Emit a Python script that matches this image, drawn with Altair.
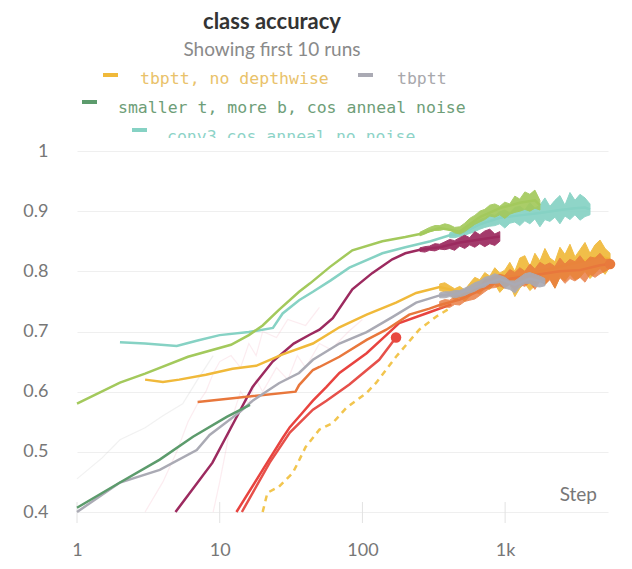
import altair as alt
import pandas as pd

# ---------------- text ----------------
TITLE = "class accuracy"
SUBTITLE = "Showing first 10 runs"
X_LABEL = "Step"
X_TICKS = [1, 10, 100, 1000]
Y_TICKS = [0.4, 0.5, 0.6, 0.7, 0.8, 0.9, 1.0]

LEGEND_LABELS = ["tbptt, no depthwise", "tbptt",
                 "smaller t, more b, cos anneal noise",
                 "conv3 cos anneal no noise"]
LEGEND_COLORS = ["#f0b93a", "#aaaab4", "#5c9b6c", "#86d2c4"]
LEGEND_TEXT_COLORS = ["#e9c26a", "#a8a8ac", "#6e9e78", "#8dd3c7"]

# shared step grid of the noisy (late) part of the runs
NOISE_STEPS = [253, 274, 296, 322, 348, 378, 409, 443, 481, 521, 565, 613, 665,
               720, 781, 847, 918, 995, 1079, 1170, 1268, 1375, 1491, 1617,
               1753, 1900, 2060, 2234, 2422, 2626, 2847, 3087, 3347, 3629,
               3934, 4266, 4625, 5015, 5437]

# ---------------- runs (smoothed curves) ----------------
lime_steps = [1, 2, 3, 6, 12, 16, 20, 26, 36, 43, 59, 85, 138, 200, 253, 348,
              481, 665, 918, 1268, 1617, 1753]
lime_vals = [0.58, 0.615, 0.63, 0.658, 0.678, 0.694, 0.71, 0.736, 0.766, 0.78,
             0.807, 0.835, 0.85, 0.857, 0.862, 0.872, 0.866, 0.89, 0.905,
             0.914, 0.918, 0.91]
lime_hi = [0.865, 0.869, 0.873, 0.876, 0.876, 0.879, 0.877, 0.873, 0.874, 0.88,
           0.888, 0.893, 0.9, 0.903, 0.91, 0.912, 0.908, 0.915, 0.912, 0.925,
           0.92, 0.932, 0.928, 0.935, 0.918]
lime_lo = [0.859, 0.862, 0.866, 0.868, 0.868, 0.87, 0.869, 0.864, 0.862, 0.866,
           0.872, 0.878, 0.882, 0.886, 0.892, 0.89, 0.894, 0.888, 0.895, 0.898,
           0.9, 0.903, 0.9, 0.905, 0.902]

teal_steps = [2, 3, 5, 7, 10, 16, 23.6, 27.6, 36, 45, 60, 81, 138, 200, 300,
              409, 481, 665, 918, 1268, 1753, 2422, 3087, 3629, 3934]
teal_vals = [0.682, 0.68, 0.676, 0.685, 0.694, 0.699, 0.706, 0.73, 0.752, 0.766,
             0.785, 0.806, 0.83, 0.84, 0.85, 0.86, 0.862, 0.878, 0.889, 0.893,
             0.897, 0.902, 0.905, 0.906, 0.903]
teal_hi = [0.864, 0.866, 0.867, 0.872, 0.874, 0.881, 0.886, 0.889, 0.895, 0.893,
           0.899, 0.902, 0.897, 0.906, 0.908, 0.902, 0.914, 0.905, 0.91, 0.922,
           0.908, 0.918, 0.926, 0.91, 0.931, 0.918, 0.928, 0.922, 0.912]
teal_lo = [0.856, 0.856, 0.858, 0.86, 0.863, 0.866, 0.87, 0.873, 0.875, 0.876,
           0.879, 0.872, 0.88, 0.882, 0.876, 0.884, 0.879, 0.887, 0.874, 0.886,
           0.883, 0.89, 0.879, 0.892, 0.886, 0.894, 0.885, 0.891, 0.894]

maroon_steps = [4.9, 8.9, 12.3, 17, 23.5, 33, 43, 50, 62, 85, 117, 162, 200,
                253, 348, 481, 665, 918]
maroon_vals = [0.4, 0.482, 0.545, 0.608, 0.65, 0.68, 0.695, 0.703, 0.722, 0.77,
               0.797, 0.82, 0.83, 0.836, 0.84, 0.848, 0.853, 0.858]
maroon_hi = [0.839, 0.841, 0.842, 0.846, 0.845, 0.849, 0.853, 0.851, 0.856, 0.86,
             0.856, 0.866, 0.861, 0.867, 0.87, 0.862, 0.866]
maroon_lo = [0.833, 0.832, 0.835, 0.834, 0.837, 0.836, 0.838, 0.835, 0.842,
             0.838, 0.844, 0.84, 0.846, 0.841, 0.846, 0.843, 0.85]

yellow_steps = [3, 4, 5.2, 8, 12.3, 18, 27.6, 45, 69, 107, 172, 238, 348, 409,
                481, 665, 918, 1268, 1753, 2422, 3347, 4625, 5437]
yellow_vals = [0.62, 0.616, 0.62, 0.628, 0.638, 0.643, 0.662, 0.68, 0.707,
               0.728, 0.748, 0.764, 0.774, 0.77, 0.764, 0.78, 0.792, 0.792,
               0.80, 0.808, 0.816, 0.825, 0.82]
yellow_hi = [0.779, 0.781, 0.776, 0.771, 0.775, 0.769, 0.78, 0.79, 0.786, 0.798,
             0.792, 0.806, 0.797, 0.802, 0.815, 0.8, 0.822, 0.826, 0.808, 0.83,
             0.817, 0.838, 0.822, 0.816, 0.84, 0.828, 0.845, 0.824, 0.836,
             0.848, 0.83, 0.844, 0.852, 0.838, 0.83]
yellow_lo = [0.768, 0.766, 0.762, 0.752, 0.757, 0.75, 0.758, 0.766, 0.762,
             0.773, 0.77, 0.779, 0.765, 0.774, 0.778, 0.758, 0.772, 0.78,
             0.768, 0.776, 0.785, 0.778, 0.788, 0.772, 0.79, 0.784, 0.795,
             0.786, 0.79, 0.8, 0.788, 0.797, 0.805, 0.795, 0.808]

orange_steps = [7, 34, 36, 45, 50, 69, 107, 147, 213, 295, 348, 481, 665, 918,
                1268, 1753, 2422, 3347, 4625, 5437]
orange_vals = [0.583, 0.6, 0.611, 0.636, 0.641, 0.658, 0.686, 0.703, 0.728,
               0.738, 0.744, 0.753, 0.768, 0.785, 0.79, 0.795, 0.8, 0.802,
               0.81, 0.812]
orange_hi = [0.75, 0.753, 0.752, 0.758, 0.76, 0.764, 0.765, 0.771, 0.775, 0.786,
             0.788, 0.792, 0.795, 0.793, 0.803, 0.798, 0.806, 0.8, 0.812, 0.804,
             0.815, 0.81, 0.814, 0.808, 0.822, 0.812, 0.82, 0.816, 0.826, 0.815,
             0.824, 0.822, 0.83, 0.82, 0.82]
orange_lo = [0.738, 0.741, 0.74, 0.745, 0.744, 0.75, 0.752, 0.754, 0.76, 0.766,
             0.772, 0.773, 0.776, 0.772, 0.779, 0.768, 0.778, 0.775, 0.782,
             0.77, 0.784, 0.778, 0.786, 0.772, 0.79, 0.78, 0.788, 0.784, 0.79,
             0.782, 0.795, 0.79, 0.796, 0.8, 0.805]

gray_steps = [1, 2, 3.8, 6.9, 8.5, 13.8, 17, 26, 36, 45, 69, 107, 162, 238,
              348, 443, 665, 918, 1170, 1491, 1900]
gray_vals = [0.4, 0.449, 0.47, 0.503, 0.528, 0.566, 0.585, 0.614, 0.631, 0.653,
             0.68, 0.699, 0.724, 0.748, 0.76, 0.762, 0.776, 0.787, 0.778, 0.788,
             0.782]
gray_hi = [0.764, 0.766, 0.766, 0.768, 0.768, 0.772, 0.776, 0.781, 0.784, 0.79,
           0.792, 0.796, 0.793, 0.79, 0.784, 0.784, 0.79, 0.796, 0.798, 0.795,
           0.792, 0.788]
gray_lo = [0.756, 0.756, 0.758, 0.756, 0.758, 0.76, 0.764, 0.767, 0.772, 0.774,
           0.78, 0.78, 0.781, 0.772, 0.77, 0.764, 0.774, 0.78, 0.78, 0.775,
           0.774, 0.776]

darkgreen_steps = [1, 2, 3.8, 6.5, 11.2, 16.3]
darkgreen_vals = [0.407, 0.449, 0.487, 0.525, 0.558, 0.578]

red1_steps = [13.1, 20, 27.6, 31, 38, 45, 56, 69, 107, 147, 181, 295, 420]
red1_vals = [0.4, 0.47, 0.523, 0.541, 0.565, 0.585, 0.608, 0.631, 0.664, 0.694,
             0.714, 0.732, 0.745]

red2_steps = [14.3, 22.4, 31, 45, 56, 81, 131, 172]
red2_vals = [0.4, 0.482, 0.532, 0.57, 0.585, 0.612, 0.653, 0.69]

dashed_steps = [20, 21.6, 26, 32.5, 35, 40, 50, 62, 77, 107, 125, 172, 250, 330,
                420]
dashed_vals = [0.4, 0.432, 0.442, 0.465, 0.48, 0.508, 0.537, 0.548, 0.573,
               0.598, 0.615, 0.658, 0.703, 0.725, 0.74]

# faint raw (unsmoothed) traces in the background
faint1_steps = [1, 1.5, 2, 3, 4, 5.5, 7, 9]
faint1_vals = [0.455, 0.49, 0.52, 0.54, 0.56, 0.58, 0.62, 0.66]
faint2_steps = [3, 4, 5, 6, 7, 8, 9, 10, 12, 14, 16, 18, 20, 25, 30, 40, 50]
faint2_vals = [0.4, 0.45, 0.5, 0.55, 0.58, 0.6, 0.63, 0.65, 0.66, 0.64, 0.68,
               0.66, 0.7, 0.69, 0.72, 0.71, 0.74]
faint3_steps = [9, 10, 11, 12, 14, 16, 18, 20, 25, 30, 35, 40, 50, 60, 80, 100]
faint3_vals = [0.4, 0.45, 0.5, 0.55, 0.6, 0.58, 0.62, 0.6, 0.64, 0.62, 0.66,
               0.64, 0.68, 0.67, 0.7, 0.72]

# (name, color, steps, values, band start index, band hi, band lo, dashed)
RUNS = [
    ("conv3 cos anneal no noise", "#86d2c4", teal_steps, teal_vals, 6, teal_hi, teal_lo, False),
    ("lime run", "#a3c95c", lime_steps, lime_vals, 0, lime_hi, lime_lo, False),
    ("maroon run", "#9c2a5f", maroon_steps, maroon_vals, 0, maroon_hi, maroon_lo, False),
    ("dashed run", "#f2c54e", dashed_steps, dashed_vals, None, None, None, True),
    ("red run 1", "#e8433f", red1_steps, red1_vals, None, None, None, False),
    ("red run 2", "#e6504a", red2_steps, red2_vals, None, None, None, False),
    ("tbptt, no depthwise", "#f0b93a", yellow_steps, yellow_vals, 4, yellow_hi, yellow_lo, False),
    ("orange run", "#e8773c", orange_steps, orange_vals, 4, orange_hi, orange_lo, False),
    ("tbptt", "#aaaab4", gray_steps, gray_vals, 4, gray_hi, gray_lo, False),
    ("smaller t, more b, cos anneal noise", "#5c9b6c", darkgreen_steps, darkgreen_vals, None, None, None, False),
]
FAINT = [(faint1_steps, faint1_vals, "#c8c8c8"),
         (faint2_steps, faint2_vals, "#f3b3c4"),
         (faint3_steps, faint3_vals, "#f3b3c4")]

# end dots
dot_steps = [172, 5437]
dot_vals = [0.69, 0.812]
dot_colors = ["#e8483f", "#e87a3c"]

# ---------------- layout ----------------
W, H = 531, 361
FONT = "Lato"
MONO = "DejaVu Sans Mono"

xscale = alt.Scale(type="log", domain=[1, 5260])
yscale = alt.Scale(domain=[0.4, 1.0])
xaxis = alt.Axis(values=X_TICKS, title=None, grid=False, domain=False, ticks=False,
                 tickSize=0, labelPadding=38, labelBaseline="middle",
                 labelFont=FONT, labelFontSize=18, labelColor="#777777",
                 labelFlush=False,
                 labelExpr="datum.value >= 1000 ? format(datum.value/1000, 'd') + 'k' : format(datum.value, 'd')")
yaxis = alt.Axis(values=Y_TICKS, title=None, grid=True, gridColor="#efefef",
                 gridWidth=1, domain=False, ticks=False, tickSize=0,
                 labelPadding=29, labelFont=FONT, labelFontSize=18,
                 labelColor="#777777",
                 labelExpr="datum.value == 1 ? '1' : format(datum.value, '.1f')")


def X(field):
    return alt.X(field, type="quantitative", scale=xscale, axis=xaxis)


def Y(field):
    return alt.Y(field, type="quantitative", scale=yscale, axis=yaxis)


one = pd.DataFrame({"a": [0]})
layers = []

# tick marks at the bottom
ticks_df = pd.DataFrame({"step": X_TICKS})
layers.append(alt.Chart(ticks_df).mark_rule(color="#e2e2e2", strokeWidth=1).encode(
    x=X("step"), y=alt.value(351), y2=alt.value(372)))

for s, v, c in FAINT:
    df = pd.DataFrame({"step": s, "v": v})
    layers.append(alt.Chart(df).mark_line(color=c, strokeWidth=1.2, opacity=0.25).encode(
        x=X("step"), y=Y("v")))

for name, color, s, v, b0, hi, lo, dashed in RUNS:
    df = pd.DataFrame({"step": s, "v": v})
    kw = dict(color=color, strokeWidth=2.5)
    if dashed:
        kw["strokeDash"] = [6, 5]
    layers.append(alt.Chart(df).mark_line(**kw).encode(x=X("step"), y=Y("v")))
    if hi is not None:
        bdf = pd.DataFrame({"step": NOISE_STEPS[b0:b0 + len(hi)], "hi": hi, "lo": lo})
        op = 0.8 if name == "orange run" else 0.92
        layers.append(alt.Chart(bdf).mark_area(color=color, opacity=op, stroke=color,
                                               strokeWidth=1).encode(
            x=X("step"), y=Y("hi"), y2="lo"))

dots_df = pd.DataFrame({"step": dot_steps, "v": dot_vals, "c": dot_colors})
layers.append(alt.Chart(dots_df).mark_circle(size=110, opacity=1).encode(
    x=X("step"), y=Y("v"), color=alt.Color("c:N", scale=None)))

# step label
layers.append(alt.Chart(one).mark_text(font=FONT, fontSize=19, color="#777777",
                                       align="right", baseline="alphabetic").encode(
    x=alt.value(520), y=alt.value(350), text=alt.value(X_LABEL)))

# title and subtitle
layers.append(alt.Chart(one).mark_text(font=FONT, fontSize=22, fontWeight="bold",
                                       color="#333333", align="center",
                                       baseline="alphabetic").encode(
    x=alt.value(195), y=alt.value(-122), text=alt.value(TITLE)))
layers.append(alt.Chart(one).mark_text(font=FONT, fontSize=19, color="#8a8a8a",
                                       align="center", baseline="alphabetic").encode(
    x=alt.value(195), y=alt.value(-95), text=alt.value(SUBTITLE)))

# legend (dash + label), rows laid out like the original
leg_pos = [(26, -76, 63, -67), (281, -76, 320, -67), (5, -49, 41, -38), (55, -21, 90, -9)]
for (dx, dy, tx, ty), lab, col, tcol in zip(leg_pos, LEGEND_LABELS, LEGEND_COLORS,
                                             LEGEND_TEXT_COLORS):
    layers.append(alt.Chart(one).mark_rule(color=col, strokeWidth=4).encode(
        x=alt.value(dx), x2=alt.value(dx + 15), y=alt.value(dy)))
    layers.append(alt.Chart(one).mark_text(font=MONO, fontSize=16.5, color=tcol,
                                           align="left", baseline="alphabetic").encode(
        x=alt.value(tx), y=alt.value(ty), text=alt.value(lab)))

# white strip hiding the lower part of the clipped legend row
layers.append(alt.Chart(one).mark_rect(color="white").encode(
    x=alt.value(0), x2=alt.value(W + 16), y=alt.value(-13), y2=alt.value(-1)))

chart = alt.layer(*layers).properties(
    width=W, height=H,
    autosize=alt.AutoSizeParams(type="none"),
    padding={"left": 69, "top": 143, "right": 16, "bottom": 52},
).configure_view(stroke=None)

chart.save("out.html", embed_options={"renderer": "svg", "actions": False})
